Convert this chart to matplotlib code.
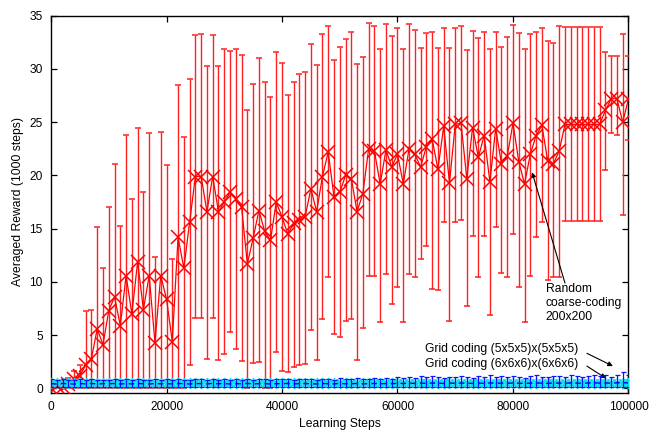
import matplotlib
matplotlib.use("Agg")
import matplotlib.pyplot as plt
import numpy as np

plt.rcParams['font.family'] = ['Liberation Sans', 'DejaVu Sans']

# learning steps, one sample every 1000 steps
steps = list(range(0, 101000, 1000))

# random coarse-coding 200x200: mean, upper and lower ends of the error bars
red_mean = [
    0.0, 0.2, 0.1, 0.4, 0.9, 1.2, 2.2, 2.8, 5.6, 4.1,
    7.3, 8.6, 5.9, 10.6, 7.0, 11.9, 7.4, 10.6, 4.3, 10.6,
    8.4, 4.4, 14.2, 11.3, 15.6, 19.9, 19.9, 16.6, 19.9, 16.6,
    17.5, 18.4, 17.8, 17.0, 11.7, 14.1, 16.7, 14.75, 13.9, 17.5,
    16.1, 14.5, 15.5, 15.8, 16.1, 18.75, 16.6, 19.9, 22.2, 18.0,
    18.4, 20.0, 19.7, 16.6, 18.3, 22.5, 22.3, 19.2, 22.4, 20.8,
    22.0, 19.2, 22.5, 22.0, 20.8, 22.7, 23.4, 20.6, 24.6, 19.3,
    24.8, 24.9, 19.7, 24.5, 21.7, 23.75, 19.4, 24.4, 21.1, 21.8,
    24.9, 21.3, 19.2, 22.0, 23.75, 24.7, 21.4, 21.1, 22.3, 24.8,
    24.8, 24.8, 24.8, 24.8, 24.8, 24.8, 26.1, 27.2, 27.2, 25.0,
    27.2,
]
red_upper = [
    0.0, 0.4, 0.3, 1.0, 1.6, 2.2, 7.3, 7.4, 15.2, 11.3,
    17.0, 21.1, 15.25, 23.8, 17.75, 24.5, 18.4, 24.0, 12.3, 24.1,
    21.0, 12.2, 28.5, 23.6, 29.1, 33.2, 33.3, 30.3, 33.2, 30.3,
    31.9, 31.7, 31.9, 31.3, 26.1, 28.6, 31.0, 28.8, 27.4, 31.6,
    30.6, 27.6, 28.8, 29.5, 29.7, 32.3, 30.4, 33.3, 34.0, 30.8,
    32.1, 32.8, 33.5, 30.5, 31.1, 34.3, 34.0, 31.9, 34.2, 33.1,
    33.8, 31.9, 34.2, 33.7, 32.0, 33.4, 33.5, 32.0, 33.8, 32.0,
    33.8, 34.0, 31.8, 33.6, 32.9, 33.5, 31.9, 33.5, 32.1, 33.0,
    34.1, 33.4, 31.9, 33.3, 33.5, 33.8, 32.6, 32.4, 34.0, 33.9,
    33.9, 33.9, 33.9, 33.9, 33.9, 33.9, 31.6, 31.2, 31.2, 33.3,
    31.25,
]
red_lower = [
    0.0, 0.0, 0.0, 0.0, 0.0, 0.0, 0.0, 0.0, 0.0, 0.0,
    0.0, 0.0, 0.0, 0.0, 0.0, 0.0, 0.0, 0.0, 0.0, 0.0,
    0.0, 0.0, 0.0, 0.0, 2.2, 6.6, 6.6, 2.8, 6.6, 2.7,
    3.2, 5.3, 3.75, 2.6, 0.0, 2.4, 2.5, 0.0, 0.0, 3.4,
    1.65, 1.55, 2.0, 2.2, 2.3, 5.5, 2.7, 6.5, 10.5, 5.1,
    4.8, 6.3, 6.5, 2.7, 5.7, 10.6, 10.6, 6.25, 10.7, 7.9,
    9.5, 6.25, 10.7, 10.5, 12.2, 13.4, 9.3, 9.2, 15.6, 6.3,
    15.6, 15.8, 7.7, 14.3, 10.5, 14.3, 6.9, 15.2, 10.8, 10.5,
    14.5, 9.5, 6.25, 10.6, 14.2, 15.6, 10.2, 10.5, 10.5, 15.7,
    15.7, 15.7, 15.7, 15.7, 15.7, 15.7, 20.5, 24.0, 23.8, 16.3,
    23.3,
]

# grid coding (5x5x5)x(5x5x5)
blue_mean = [
    0.45, 0.42, 0.47, 0.44, 0.41, 0.46, 0.43, 0.47, 0.42, 0.45,
    0.44, 0.46, 0.42, 0.45, 0.43, 0.47, 0.44, 0.42, 0.46, 0.44,
    0.45, 0.43, 0.47, 0.44, 0.42, 0.46, 0.45, 0.43, 0.47, 0.44,
    0.46, 0.42, 0.45, 0.44, 0.47, 0.43, 0.45, 0.46, 0.42, 0.45,
    0.44, 0.47, 0.43, 0.45, 0.46, 0.44, 0.42, 0.46, 0.45, 0.43,
    0.47, 0.44, 0.45, 0.46, 0.43, 0.45, 0.47, 0.44, 0.46, 0.45,
    0.48, 0.46, 0.49, 0.47, 0.50, 0.48, 0.51, 0.49, 0.47, 0.50,
    0.48, 0.51, 0.49, 0.47, 0.50, 0.48, 0.52, 0.49, 0.50, 0.48,
    0.51, 0.49, 0.47, 0.50, 0.52, 0.49, 0.48, 0.51, 0.50, 0.49,
    0.52, 0.50, 0.48, 0.51, 0.53, 0.50, 0.52, 0.49, 0.53, 0.55,
    0.52,
]
blue_upper = [
    0.85, 0.80, 0.88, 0.82, 0.79, 0.86, 0.81, 0.87, 0.80, 0.84,
    0.83, 0.86, 0.80, 0.85, 0.82, 0.88, 0.83, 0.80, 0.86, 0.84,
    0.85, 0.81, 0.90, 0.83, 0.80, 0.87, 0.85, 0.82, 0.91, 0.84,
    0.88, 0.80, 0.86, 0.84, 0.92, 0.82, 0.86, 0.89, 0.81, 0.87,
    0.85, 0.93, 0.83, 0.87, 0.90, 0.85, 0.82, 0.91, 0.88, 0.84,
    0.95, 0.87, 0.90, 0.94, 0.86, 0.91, 0.97, 0.89, 0.95, 0.92,
    1.05, 0.98, 1.10, 1.02, 1.15, 1.06, 1.18, 1.08, 1.00, 1.12,
    1.05, 1.20, 1.10, 1.02, 1.15, 1.08, 1.22, 1.10, 1.14, 1.06,
    1.18, 1.10, 1.02, 1.15, 1.22, 1.10, 1.06, 1.18, 1.14, 1.10,
    1.22, 1.15, 1.06, 1.20, 1.28, 1.15, 1.25, 1.12, 1.30, 1.55,
    1.25,
]

# grid coding (6x6x6)x(6x6x6)
cyan_mean = [
    0.50, 0.48, 0.52, 0.49, 0.51, 0.47, 0.50, 0.52, 0.48, 0.50,
    0.49, 0.51, 0.48, 0.52, 0.50, 0.47, 0.51, 0.49, 0.52, 0.48,
    0.50, 0.51, 0.47, 0.50, 0.52, 0.49, 0.48, 0.51, 0.50, 0.52,
    0.48, 0.50, 0.51, 0.47, 0.50, 0.52, 0.49, 0.50, 0.48, 0.51,
    0.52, 0.49, 0.50, 0.48, 0.51, 0.50, 0.52, 0.47, 0.50, 0.49,
    0.51, 0.48, 0.52, 0.50, 0.49, 0.51, 0.48, 0.50, 0.52, 0.49,
    0.50, 0.48, 0.51, 0.52, 0.49, 0.50, 0.47, 0.51, 0.50, 0.48,
    0.52, 0.50, 0.49, 0.51, 0.48, 0.50, 0.52, 0.49, 0.51, 0.50,
    0.48, 0.52, 0.50, 0.49, 0.51, 0.48, 0.50, 0.52, 0.49, 0.51,
    0.50, 0.48, 0.52, 0.50, 0.49, 0.51, 0.50, 0.48, 0.52, 0.50,
    0.51,
]

fig = plt.figure(figsize=(6.49, 4.30), dpi=100)
ax = fig.add_axes([0.0786, 0.0867, 0.8898, 0.8768])

red_err = [np.array(red_mean) - np.array(red_lower),
           np.array(red_upper) - np.array(red_mean)]
ax.errorbar(steps, red_mean, yerr=red_err, color='#ff0000', ecolor='#ff2020',
            elinewidth=1.0, capsize=2.2, capthick=1.0, lw=0.9,
            marker='x', ms=9.5, mew=1.1, zorder=3)

ax.plot(steps, cyan_mean, color='#00e8f0', lw=1.2, marker=(8, 2, 0),
        ms=8, mew=1.0, zorder=4)

blue_err = [np.array(blue_mean) - 0.1, np.array(blue_upper) - np.array(blue_mean)]
ax.errorbar(steps, blue_mean, yerr=blue_err, color='#0000e0', ecolor='#1010ff',
            elinewidth=0.9, capsize=1.8, capthick=0.9, lw=1.0,
            ls=(0, (4, 3)), marker='', zorder=5)

ax.set_xlim(0, 100000)
ax.set_ylim(-0.4, 35)
ax.set_xticks([0, 20000, 40000, 60000, 80000, 100000])
ax.set_yticks([0, 5, 10, 15, 20, 25, 30, 35])
ax.tick_params(direction='in', top=True, right=True, length=4.5, width=0.9,
               labelsize=8.6, pad=6)
for s in ax.spines.values():
    s.set_linewidth(1.0)

ax.annotate('', xy=(83300, 20.3), xytext=(89000, 9.9),
            arrowprops=dict(arrowstyle='-|>', color='black', lw=0.8,
                            mutation_scale=7, shrinkA=0, shrinkB=0))
ax.text(85700, 8.0, 'Random\ncoarse-coding\n200x200', fontsize=8.7,
        ha='left', va='center', linespacing=1.22)

ax.text(64700, 3.68, 'Grid coding (5x5x5)x(5x5x5)', fontsize=8.7,
        ha='left', va='center')
ax.text(64700, 2.28, 'Grid coding (6x6x6)x(6x6x6)', fontsize=8.7,
        ha='left', va='center')
ax.annotate('', xy=(97300, 2.1), xytext=(92800, 3.3),
            arrowprops=dict(arrowstyle='-|>', color='black', lw=0.8,
                            mutation_scale=7, shrinkA=0, shrinkB=0))
ax.annotate('', xy=(96100, 0.95), xytext=(92800, 2.1),
            arrowprops=dict(arrowstyle='-|>', color='black', lw=0.8,
                            mutation_scale=7, shrinkA=0, shrinkB=0))

fig.text(0.5235, 1 - 424 / 430, 'Learning Steps', ha='center', va='center',
         fontsize=8.7)
fig.text(18 / 649, 1 - 202 / 430, 'Averaged Reward (1000 steps)', ha='center',
         va='center', rotation=90, fontsize=8.7)

fig.savefig('out.png', dpi=100)
